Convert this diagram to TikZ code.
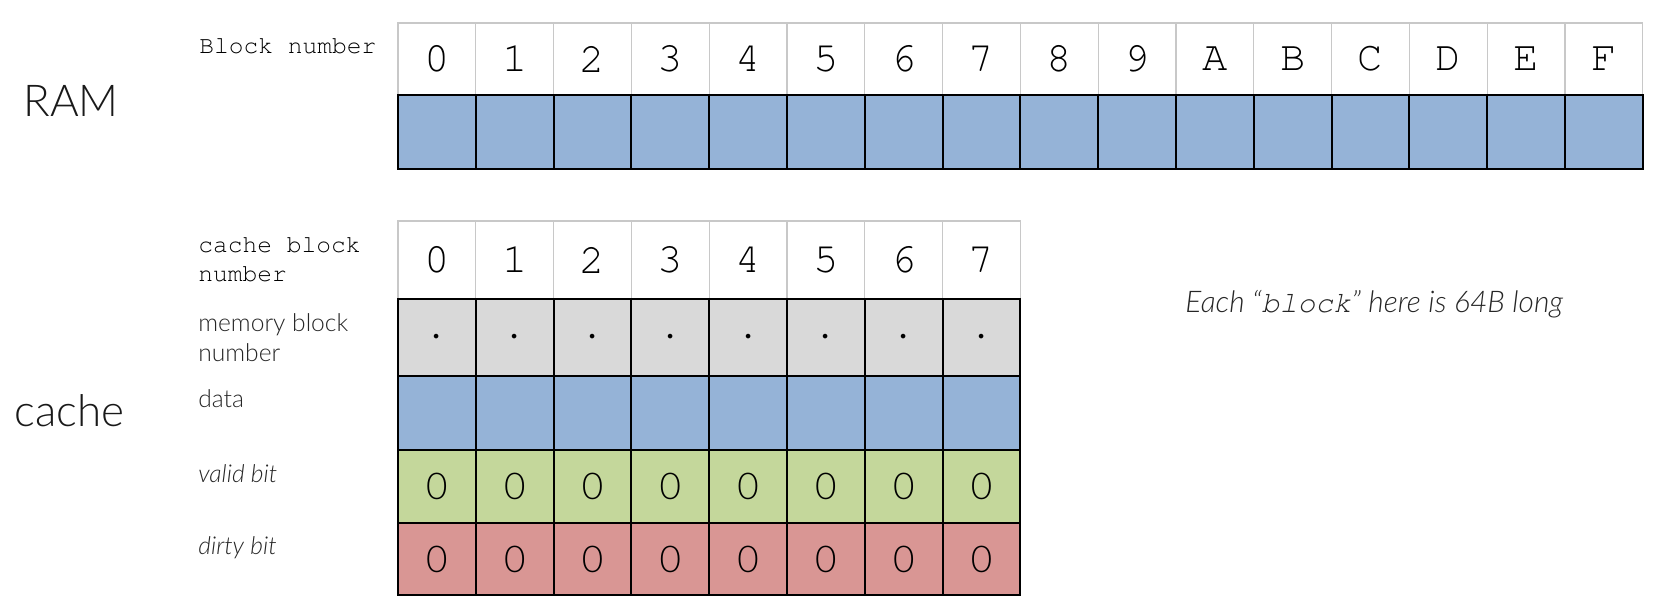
\documentclass[tikz,border=0pt]{standalone}
\usepackage{fontspec}
\setmainfont{Lato Light}[ItalicFont={Lato Light Italic}]
\setmonofont{texgyrecursor}[Extension=.otf,UprightFont=*-regular,ItalicFont=*-italic]
\usepackage{xcolor}
\definecolor{ramblue}{HTML}{95B3D7}
\definecolor{taggray}{HTML}{D9D9D9}
\definecolor{validgreen}{HTML}{C4D79B}
\definecolor{dirtyred}{HTML}{D99694}
\definecolor{hdrline}{HTML}{C8C8C8}

\begin{document}
\begin{tikzpicture}[x=0.02cm,y=-0.02cm,
  hdr/.style={draw=hdrline,line width=0.6pt,fill=white,minimum width=1.556cm,inner sep=0pt,font=\ttfamily\fontsize{24}{24}\selectfont},
  cell/.style={draw=black,line width=1.2pt,minimum width=1.556cm,inner sep=0pt,font=\fontsize{21}{21}\selectfont},
  lbl/.style={inner sep=0pt,text=black!85,align=left,font=\fontsize{14}{17}\selectfont},
  title/.style={inner sep=0pt,text=black!90,font=\fontsize{25}{25}\selectfont}]
\useasboundingbox (0,0) rectangle (1653,607);

\node[title,anchor=base west] (ram) at (23,117) {RAM};
\node[title,anchor=base west] (cache) at (14,427) {cache};

% RAM
\node[lbl,anchor=base west,text=black,font=\ttfamily\fontsize{14}{17}\selectfont] (ramlbl) at (199,54) {Block number};
\foreach \d [count=\i from 0] in {0,1,2,3,4,5,6,7,8,9,A,B,C,D,E,F} {
  \node[hdr,minimum height=1.44cm] (rh\i) at (398+77.8*\i+38.9,59) {\d};
}
\foreach \i in {0,...,15} {
  \node[cell,fill=ramblue,minimum height=1.48cm] (rd\i) at (398+77.8*\i+38.9,132) {};
}

% cache
\node[lbl,anchor=west,text=black,font=\ttfamily\fontsize{14}{16.5}\selectfont] (chlbl) at (198,260) {cache block\\number};
\node[lbl,anchor=west] (ctlbl) at (198,338) {memory block\\number};
\node[lbl,anchor=base west] (cdlbl) at (198,408) {data};
\node[lbl,anchor=base west] (cvlbl) at (198,483) {\itshape valid bit};
\node[lbl,anchor=base west] (cxlbl) at (198,555) {\itshape dirty bit};
\foreach \i in {0,...,7} {
  \node[hdr,minimum height=1.56cm] (ch\i) at (398+77.8*\i+38.9,260) {\i};
}
\foreach \i in {0,...,7} {
  \node[cell,fill=taggray,minimum height=1.54cm,font=\fontsize{24}{24}\selectfont] (ct\i) at (398+77.8*\i+38.9,337.5) {$\cdot$};
  \node[cell,fill=ramblue,minimum height=1.48cm] (cd\i) at (398+77.8*\i+38.9,413) {};
  \node[cell,fill=validgreen,minimum height=1.46cm] (cv\i) at (398+77.8*\i+38.9,486.5) {0};
  \node[cell,fill=dirtyred,minimum height=1.44cm] (cx\i) at (398+77.8*\i+38.9,559) {0};
}

\node[inner sep=0pt,anchor=base west,text=black!85,font=\itshape\fontsize{17}{17}\selectfont] (note) at (1185,313) {Each “\texttt{block}” here is 64B long};
\end{tikzpicture}
\end{document}
